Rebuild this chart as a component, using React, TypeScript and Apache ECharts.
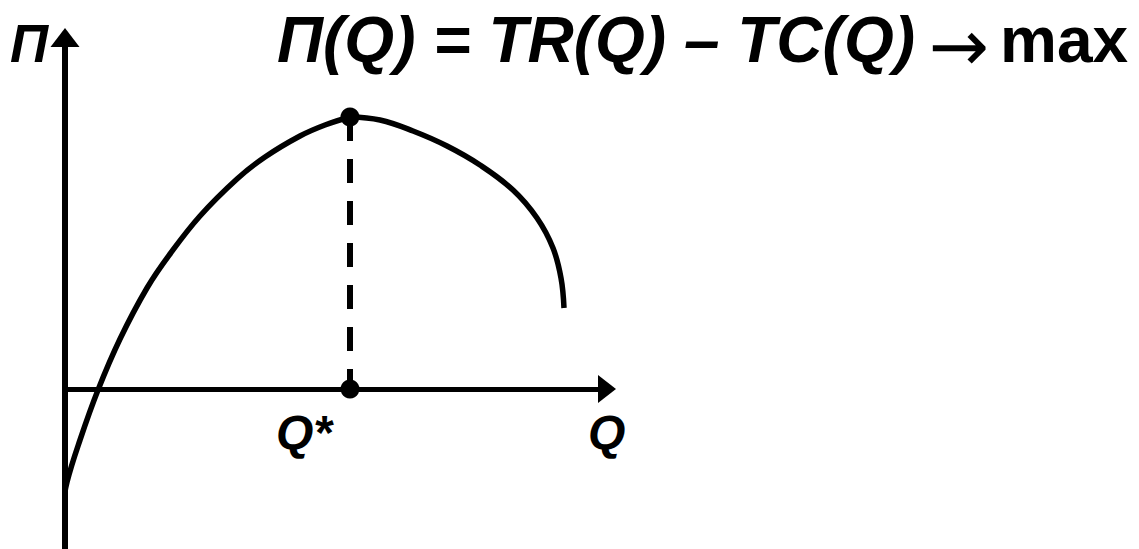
import React, { useEffect, useRef } from "react";
import * as echarts from "echarts";

// Profit curve П(Q) (Q units to the right of the П axis, П units above the Q axis)
// rising branch up to the optimum
const riseQ = [-2, 2, 15, 33, 55, 82, 105, 135, 172, 200, 235, 260, 285];
const riseP = [-117, -93, -51, -1, 50, 101, 135, 173, 210, 232, 253, 264, 272];
// falling branch after the optimum
const fallQ = [285, 315, 348, 382, 415, 448, 472, 488, 496, 499];
const fallP = [272, 269, 258, 243, 224, 199, 171, 141, 111, 81];
const optimumQ = 285;
const optimumP = 272;
const qRange = [0, 542];
const pRange = [-160, 351.5];

const titleText = "П(Q) = TR(Q) – TC(Q)";
const arrowText = "→";
const maxText = "max";
const yAxisName = "П";
const xAxisName = "Q";
const optimumName = "Q*";

export default function App() {
  const ref = useRef<HTMLDivElement>(null);
  useEffect(() => {
    document.body.style.margin = "0";
    const chart = echarts.init(ref.current!, null, { renderer: "svg" });
    const font = "'Liberation Sans', Arial, sans-serif";
    const curveStyle = { color: "#000", width: 5.5, cap: "round" as const };
    chart.setOption({
      animation: false,
      backgroundColor: "#ffffff",
      grid: { left: 65, top: 37.5, right: 532, bottom: 0, containLabel: false },
      xAxis: {
        type: "value",
        min: qRange[0],
        max: qRange[1],
        axisLine: {
          show: true,
          onZero: true,
          symbol: ["none", "triangle"],
          symbolSize: [28, 18],
          lineStyle: { color: "#000", width: 5 },
        },
        axisTick: { show: false },
        axisLabel: { show: false },
        splitLine: { show: false },
      },
      yAxis: {
        type: "value",
        min: pRange[0],
        max: pRange[1],
        axisLine: {
          show: true,
          symbol: ["none", "triangle"],
          symbolSize: [29, 19],
          lineStyle: { color: "#000", width: 6 },
        },
        axisTick: { show: false },
        axisLabel: { show: false },
        splitLine: { show: false },
      },
      series: [
        {
          type: "line",
          data: riseQ.map((q, i) => [q, riseP[i]]),
          smooth: 0.4,
          showSymbol: false,
          clip: false,
          lineStyle: curveStyle,
          z: 3,
        },
        {
          type: "line",
          data: fallQ.map((q, i) => [q, fallP[i]]),
          smooth: 0.4,
          showSymbol: false,
          clip: false,
          lineStyle: { color: "#000", width: 5.5 },
          z: 3,
        },
        {
          type: "line",
          data: [
            [optimumQ, optimumP],
            [optimumQ, 0],
          ],
          showSymbol: false,
          lineStyle: { color: "#000", width: 6, type: [24, 18] },
          z: 2,
        },
        {
          type: "scatter",
          data: [
            [optimumQ, optimumP],
            [optimumQ, 0],
          ],
          symbolSize: 19,
          itemStyle: { color: "#000", opacity: 1 },
          z: 4,
        },
      ],
      graphic: [
        {
          type: "text",
          x: 10,
          y: 43,
          style: {
            text: yAxisName,
            font: `italic bold 53px ${font}`,
            fill: "#000",
            verticalAlign: "middle",
          },
        },
        {
          type: "text",
          x: 277,
          y: 40,
          style: {
            text: titleText,
            font: `italic bold 64px ${font}`,
            fill: "#000",
            verticalAlign: "middle",
          },
        },
        {
          type: "text",
          x: 959,
          y: 46,
          style: {
            text: arrowText,
            font: `normal 72px 'DejaVu Sans', sans-serif`,
            fill: "#000",
            align: "center",
            verticalAlign: "middle",
          },
        },
        {
          type: "text",
          x: 1000,
          y: 40,
          style: {
            text: maxText,
            font: `bold 64px ${font}`,
            fill: "#000",
            verticalAlign: "middle",
          },
        },
        {
          type: "text",
          x: 276,
          y: 432,
          style: {
            text: optimumName,
            font: `italic bold 48px ${font}`,
            fill: "#000",
            verticalAlign: "middle",
          },
        },
        {
          type: "text",
          x: 588,
          y: 432,
          style: {
            text: xAxisName,
            font: `italic bold 48px ${font}`,
            fill: "#000",
            verticalAlign: "middle",
          },
        },
      ],
    });
    return () => chart.dispose();
  }, []);
  return <div ref={ref} style={{ width: 1139, height: 549 }} />;
}
